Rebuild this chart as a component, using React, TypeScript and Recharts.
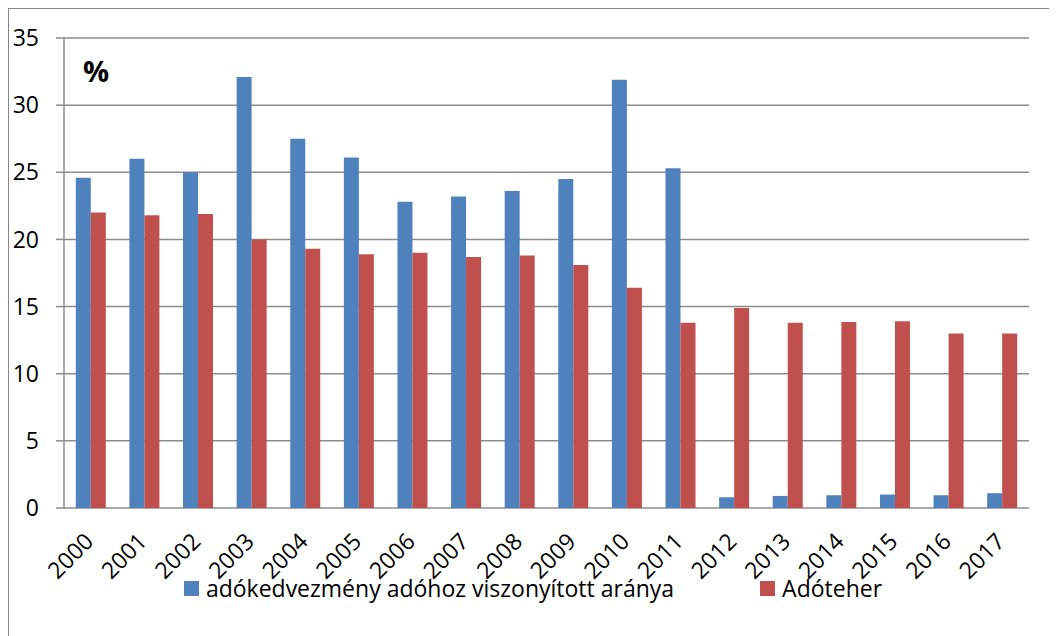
import React from 'react';
import { BarChart, Bar, XAxis, YAxis, CartesianGrid, Legend } from 'recharts';

const years = ['2000', '2001', '2002', '2003', '2004', '2005', '2006', '2007', '2008', '2009', '2010', '2011', '2012', '2013', '2014', '2015', '2016', '2017'];
const kedvezmenyArany = [24.6, 26.0, 25.0, 32.1, 27.5, 26.1, 22.8, 23.2, 23.6, 24.5, 31.9, 25.3, 0.8, 0.9, 0.95, 1.0, 0.95, 1.1];
const adoteher = [22.0, 21.8, 21.9, 20.0, 19.3, 18.9, 19.0, 18.7, 18.8, 18.1, 16.4, 13.8, 14.9, 13.8, 13.85, 13.9, 13.0, 13.0];
const yTicks = [0, 5, 10, 15, 20, 25, 30, 35];
const seriesNames = ['adókedvezmény adóhoz viszonyított aránya', 'Adóteher'];
const seriesColors = ['#4F81BD', '#C0504D'];
const unitLabel = '%';

const data = years.map((year, i) => ({
  year,
  pos: i + 0.5,
  kedvezmeny: kedvezmenyArany[i],
  teher: adoteher[i],
}));
const boundaryTicks = years.map((_, i) => i).concat([years.length]);

const FONT = "'Open Sans', sans-serif";
const GRID = '#8c8c8c';
const FS = 23;

const YearTick = (props: any) => {
  const { x, y, payload } = props;
  const tx = x + 4;
  const ty = y + 35;
  return (
    <text x={tx} y={ty} textAnchor="end" transform={`rotate(-45 ${tx} ${ty})`} fontSize={FS} fill="#000" fontFamily={FONT}>
      {payload.value}
    </text>
  );
};

const LegendContent = () => (
  <div style={{ display: 'flex', justifyContent: 'center', alignItems: 'center', height: 30, fontFamily: FONT, fontSize: FS, color: '#000' }}>
    {seriesNames.map((name, i) => (
      <div key={i} style={{ display: 'flex', alignItems: 'center', marginLeft: i ? 86 : 0 }}>
        <span style={{ display: 'inline-block', width: 15, height: 15, background: seriesColors[i], marginRight: 7 }} />
        <span>{name}</span>
      </div>
    ))}
  </div>
);

export default function App() {
  return (
    <div style={{ borderLeft: '1px solid #868686', borderTop: '1px solid #868686', width: 1048, height: 627 }}>
      <BarChart
        width={1048}
        height={627}
        data={data}
        margin={{ top: 29, right: 28, left: 0, bottom: 33 }}
        barCategoryGap="22%"
        barGap={0}
      >
        <CartesianGrid vertical={false} stroke={GRID} strokeWidth={1.5} xAxisId="cat" />
        <XAxis
          xAxisId="grid"
          type="number"
          dataKey="pos"
          domain={[0, years.length]}
          ticks={boundaryTicks}
          interval={0}
          height={0}
          tick={false}
          tickSize={8}
          tickLine={{ stroke: GRID, strokeWidth: 1.5 }}
          axisLine={{ stroke: GRID, strokeWidth: 1.5 }}
          allowDataOverflow
        />
        <XAxis
          xAxisId="cat"
          dataKey="year"
          height={65}
          interval={0}
          tickSize={0}
          tickMargin={0}
          axisLine={false}
          tickLine={false}
          tick={<YearTick />}
        />
        <YAxis
          width={55}
          domain={[0, 35]}
          ticks={yTicks}
          interval={0}
          tickSize={8}
          tickMargin={17}
          axisLine={{ stroke: GRID, strokeWidth: 1.5 }}
          tickLine={{ stroke: GRID, strokeWidth: 1.5 }}
          tick={{ fontSize: FS, fill: '#000', fontFamily: FONT }}
        />
        <Legend verticalAlign="bottom" content={<LegendContent />} wrapperStyle={{ left: 0, width: 1048 }} />
        <Bar xAxisId="cat" dataKey="kedvezmeny" name={seriesNames[0]} fill={seriesColors[0]} isAnimationActive={false} />
        <Bar xAxisId="cat" dataKey="teher" name={seriesNames[1]} fill={seriesColors[1]} isAnimationActive={false} />
        <text x={74} y={73} fontSize={29} fontWeight="bold" fontFamily={FONT} fill="#000">{unitLabel}</text>
      </BarChart>
    </div>
  );
}
